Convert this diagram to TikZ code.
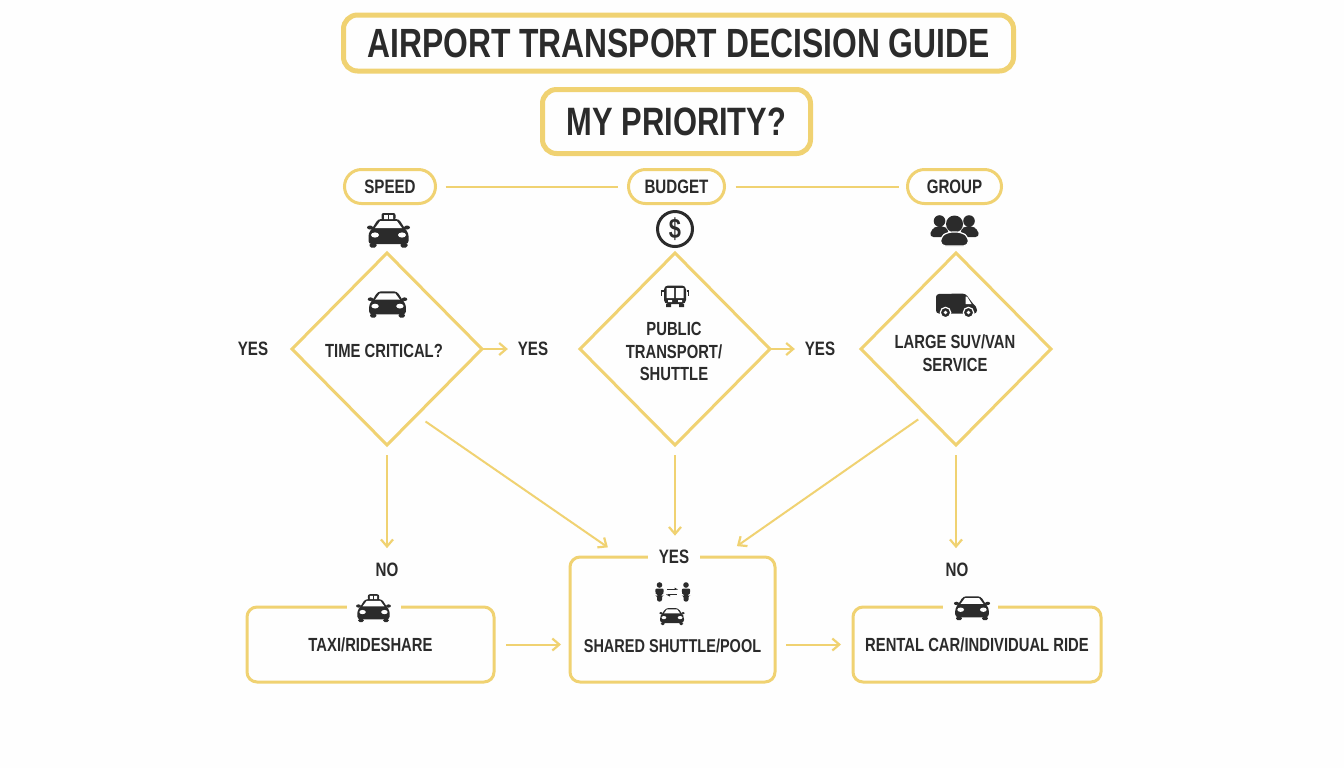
\documentclass[tikz,border=0pt]{standalone}
\usepackage{fontspec}
\setmainfont{Liberation Sans}[FakeStretch=0.78]
\usetikzlibrary{shapes.geometric,arrows.meta}
\definecolor{gold}{HTML}{F0D272}
\definecolor{ink}{HTML}{2B2B2B}
\definecolor{paper}{HTML}{FEFEFE}
\newcommand{\carshape}{%
    \fill[ink,rounded corners=1.5pt] (-20,14) -- (-20,3) -- (-16,-2) -- (-10.5,-11) -- (10.5,-11) -- (16,-2) -- (20,3) -- (20,14) -- cycle;
    \fill[paper] (-13.5,-2) -- (-8.5,-8.8) -- (8.5,-8.8) -- (13.5,-2) -- cycle;
    \fill[ink,rounded corners=.8pt] (-19,13) rectangle (-12,17.5) (12,13) rectangle (19,17.5);
    \fill[ink] (-18.5,-2.5) ellipse (3 and 2) (18.5,-2.5) ellipse (3 and 2);
    \fill[paper] (-13.5,5) ellipse (4 and 2.6) (13.5,5) ellipse (4 and 2.6);
}
\tikzset{
  x=0.5pt,y=-0.5pt,
  every node/.style={font=\bfseries,text=ink,outer sep=0pt,inner sep=0pt,align=center},
  titlebox/.style={draw=gold,line width=2.5pt,rounded corners=7pt},
  pill/.style={draw=gold,line width=1.5pt,rounded corners=8.5pt,minimum height=17pt,font=\bfseries\fontsize{9.7}{12}\selectfont},
  choice/.style={diamond,draw=gold,line width=1.5pt,minimum width=95pt,minimum height=96pt,aspect=1},
  result/.style={draw=gold,line width=1.5pt,rounded corners=5pt},
  txt/.style={font=\bfseries\fontsize{9.5}{11.3}\selectfont},
  tag/.style={font=\bfseries\fontsize{9.7}{12}\selectfont},
  gap/.style={fill=paper,minimum height=5pt},
  link/.style={draw=gold,line width=1pt},
  arrow/.style={link,-{Straight Barb[length=3.5pt,width=6pt,line width=1.1pt]}},
  pics/carfront/.style={code={\carshape}},
  pics/taxifront/.style={code={
    \carshape
    \fill[ink,rounded corners=1pt] (-7,-17) rectangle (7,-10);
    \fill[paper] (-4.5,-15) rectangle (-.7,-11) (.7,-15) rectangle (4.5,-11);
  }},
  pics/person/.style={code={
    \fill[ink] (0,-6.5) circle (2.8);
    \fill[ink,rounded corners=1pt] (-4.5,-3) -- (4.5,-3) -- (3.5,4) -- (2.5,4) -- (2.5,10) -- (-2.5,10) -- (-2.5,4) -- (-3.5,4) -- cycle;
  }},
}
\begin{document}
\begin{tikzpicture}
\path[use as bounding box,fill=paper] (0,0) rectangle (1344,768);

% headers
\node[titlebox,minimum width=335pt,minimum height=28pt,font=\bfseries\fontsize{20.4}{24}\selectfont] (title) at (678.5,43) {AIRPORT TRANSPORT DECISION GUIDE};
\node[titlebox,minimum width=134pt,minimum height=32pt,font=\bfseries\fontsize{19.8}{22}\selectfont] (priority) at (676.5,121.5) {MY PRIORITY?};
\node[pill,minimum width=45.5pt] (speed) at (390,186.5) {SPEED};
\node[pill,minimum width=48pt] (budget) at (676.5,186.5) {BUDGET};
\node[pill,minimum width=47pt] (group) at (954.5,186.5) {GROUP};
\draw[link,shorten <=5pt,shorten >=5.5pt] (speed) -- (budget);
\draw[link,shorten <=5.5pt,shorten >=4.5pt] (budget) -- (group);

% header icons
\pic at (388.5,230) {taxifront};
\node[circle,draw=ink,line width=1.5pt,minimum size=17.5pt,font=\bfseries\fontsize{14}{14}\selectfont] (dollar) at (675,229) {\$};
\begin{scope}[shift={(954.5,229)}]
  \fill[ink] (-15,-8) circle (5.8) (14.5,-8) circle (5.8);
  \fill[ink,rounded corners=2pt] (-25,8) -- (-23,0) -- (-17,-3) -- (-12,-3) -- (-6,0) -- (-6,8) -- cycle;
  \fill[ink,rounded corners=2pt] (25,8) -- (23,0) -- (17,-3) -- (12,-3) -- (6,0) -- (6,8) -- cycle;
  \fill[ink] (0,-5) circle (8.5);
  \filldraw[ink,draw=paper,line width=.6pt,rounded corners=2.5pt] (-14,17) -- (-14,8) -- (-7,3) -- (7,3) -- (14,8) -- (14,17) -- cycle;
\end{scope}

% diamonds
\node[choice] (d1) at (387,349) {};
\node[choice] (d2) at (675,349) {};
\node[choice] (d3) at (956,349) {};
\node[txt] (t1) at (384,351) {TIME CRITICAL?};
\node[txt] (t2) at (674,351.5) {PUBLIC\\TRANSPORT/\\SHUTTLE};
\node[txt] (t3) at (955,353) {LARGE SUV/VAN\\SERVICE};

% diamond icons
\pic[scale=.92] at (387.5,301.5) {carfront};
\begin{scope}[shift={(675,296)}]
  \fill[ink,rounded corners=2pt] (-11,-10.5) rectangle (11,8);
  \fill[paper] (-8.5,-8) rectangle (-.8,2) (.8,-8) rectangle (8.5,2);
  \fill[paper] (-7,4) rectangle (-3,6) (3,4) rectangle (7,6);
  \fill[ink] (-9,8) rectangle (-4,11) (4,8) rectangle (9,11);
  \draw[ink,line width=.8pt] (-11.5,-5) -- (-13.5,-5) -- (-13.5,0) (11.5,-5) -- (13.5,-5) -- (13.5,0);
\end{scope}
\begin{scope}[shift={(956.5,304.5)}]
  \fill[ink,rounded corners=1.5pt] (-20.5,9) -- (-20.5,-10.5) -- (9,-11) -- (17,0) -- (20.5,3) -- (20.5,9) -- cycle;
  \fill[paper] (9,-8) -- (9,-.5) -- (15,-.5) -- (10.5,-8) -- cycle;
  \filldraw[ink,draw=paper,line width=.6pt] (-11,8) circle (5.2) (12,8) circle (5.2);
  \fill[paper] (-11,8) circle (1.8) (12,8) circle (1.8);
\end{scope}

% yes labels
\node[tag] (y0) at (253,349) {YES};
\node[tag] (y1) at (533,349) {YES};
\node[tag] (y2) at (820,349) {YES};
\draw[arrow,shorten <=.5pt,shorten >=5pt] (d1.east) -- (y1.west);
\draw[arrow,shorten <=.5pt,shorten >=5pt] (d2.east) -- (y2.west);

% result boxes
\node[result,minimum width=123.5pt,minimum height=37.5pt,txt] (taxi) at (370.5,644.5) {TAXI/RIDESHARE};
\node[result,minimum width=102.5pt,minimum height=62.5pt] (shared) at (672.5,619.5) {};
\node[result,minimum width=124pt,minimum height=37.5pt,txt] (rental) at (977,644.5) {RENTAL CAR/INDIVIDUAL RIDE};
\node[txt,font=\bfseries\fontsize{9.3}{11}\selectfont] (t5) at (672.5,645.5) {SHARED SHUTTLE/POOL};

% gaps in the box borders, with what sits in them
\node[gap,minimum width=27pt] (g1) at (374,607) {};
\node[gap,minimum width=26pt,tag] (yesmid) at (674,556.5) {YES};
\node[gap,minimum width=27.5pt] (g3) at (970.5,607) {};
\node[tag] (no1) at (387,570) {NO};
\node[tag] (no3) at (957,570) {NO};
\pic[scale=.81] at (373.5,608) {taxifront};
\pic[scale=.84] at (972,605.5) {carfront};
\pic[scale=.6] at (672,614.6) {carfront};
\pic at (659.5,591.5) {person};
\pic at (686,591.5) {person};
\draw[ink,line width=.6pt] (667,589.5) -- (676,589.5) (668,594.5) -- (677,594.5);
\fill[ink] (674.5,587.5) -- (678,589.5) -- (674.5,590) -- cycle (670,596.5) -- (666,594.5) -- (670,594) -- cycle;

% connectors
\draw[arrow,shorten <=5pt,shorten >=7.5pt] (d1.south) -- (d1.south |- no1.north);
\draw[arrow,shorten <=5pt,shorten >=7pt] (d2.south) -- (d2.south |- yesmid.north);
\draw[arrow,shorten <=5pt,shorten >=7.5pt] (d3.south) -- (d3.south |- no3.north);
\draw[arrow,shorten <=5.5pt,shorten >=8.5pt] (d1.-66) -- (shared.129);
\draw[arrow,shorten <=4.5pt,shorten >=9.5pt] (d3.-115.8) -- (shared.52.6);
\draw[arrow,shorten <=6pt,shorten >=4.5pt] (taxi.east) -- (shared.west |- taxi.east);
\draw[arrow,shorten <=5.5pt,shorten >=6pt] (shared.east |- rental.west) -- (rental.west);
\end{tikzpicture}
\end{document}
